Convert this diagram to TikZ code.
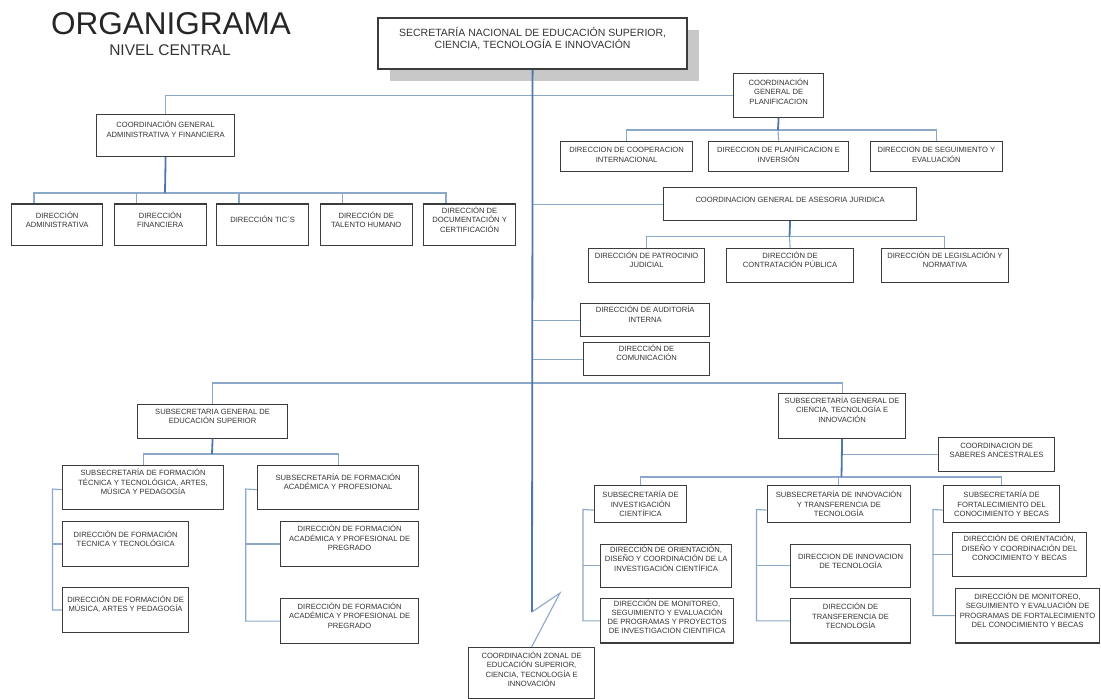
\documentclass[tikz,border=0pt]{standalone}
\usepackage{fontspec}
\setmainfont{Liberation Sans}
\usetikzlibrary{shadows}
\usepackage{xcolor}
\definecolor{Ink}{HTML}{333333}
\definecolor{Frame}{HTML}{3C3C3C}
\definecolor{Wire}{HTML}{8CA8C8}
\definecolor{Trunk}{HTML}{4F77AD}
\definecolor{Shade}{HTML}{C8C8C8}
\newcommand{\orgtext}[4]{\parbox[c][#2pt][t]{#1pt}{\centering\rule{0pt}{#3pt}#4}}

\begin{document}
\begin{tikzpicture}[x=1pt,y=-1pt,
  box/.style={draw=Frame,line width=1.2pt,fill=white,inner sep=0pt,anchor=north west,
    text=Ink,font=\fontsize{7.6}{9.5}\selectfont},
  link/.style={draw=Wire,line width=1.1pt},
  trunk/.style={draw=Trunk,line width=1.8pt}]
\path[use as bounding box,fill=white] (0,0) rectangle (1101,699);
\node[font=\fontsize{31.5}{31.5}\selectfont,text=black!85] (title) at (171,24) {ORGANIGRAMA};
\node[font=\fontsize{15.5}{15.5}\selectfont,text=Ink] (level) at (170,50) {NIVEL CENTRAL};

% autoridad
\node[box,line width=2.2pt,font=\fontsize{10.5}{11.5}\selectfont,
  drop shadow={shadow xshift=12pt,shadow yshift=-12pt,fill=Shade,opacity=1}] (main) at (377,17)
  {\orgtext{309}{51}{18.8}{SECRETARÍA NACIONAL DE EDUCACIÓN SUPERIOR,\\CIENCIA, TECNOLOGÍA E INNOVACIÓN}};

% coordinaciones generales
\node[box] (planif) at (733,73) {\orgtext{90}{44}{11.7}{COORDINACIÓN\\GENERAL DE\\PLANIFICACION}};
\node[box] (cgaf) at (96,114) {\orgtext{138}{42}{13}{COORDINACIÓN GENERAL\\ADMINISTRATIVA Y FINANCIERA}};
\node[box] (dadm) at (11,203.4) {\orgtext{91}{41.6}{14.1}{DIRECCIÓN\\ADMINISTRATIVA}};
\node[box] (dfin) at (113.6,203.4) {\orgtext{92}{41.6}{14.1}{DIRECCIÓN\\FINANCIERA}};
\node[box] (dtic) at (216,203.4) {\orgtext{92}{41.6}{18.3}{DIRECCIÓN TIC´S}};
\node[box] (dtal) at (319.6,203.4) {\orgtext{92}{41.6}{14.1}{DIRECCIÓN DE\\TALENTO HUMANO}};
\node[box] (dcert) at (423,203.4) {\orgtext{92}{41.6}{9.3}{DIRECCIÓN DE\\DOCUMENTACIÓN Y\\CERTIFICACIÓN}};
\node[box] (coop) at (560,140.5) {\orgtext{132}{30.5}{11.7}{DIRECCION DE COOPERACION\\INTERNACIONAL}};
\node[box] (inver) at (708,140.5) {\orgtext{140}{30.5}{11.7}{DIRECCION DE PLANIFICACION E\\INVERSIÓN}};
\node[box] (evalu) at (870,140.5) {\orgtext{131.5}{30.5}{11.7}{DIRECCION DE SEGUIMIENTO Y\\EVALUACIÓN}};
\node[box] (juri) at (663,187) {\orgtext{253}{33}{14.7}{COORDINACION GENERAL DE ASESORIA JURIDICA}};
\node[box] (patro) at (588,248) {\orgtext{116}{34}{9.7}{DIRECCIÓN DE PATROCINIO\\JUDICIAL}};
\node[box] (contra) at (726,248) {\orgtext{127}{34}{9.7}{DIRECCIÓN DE\\CONTRATACIÓN PÚBLICA}};
\node[box] (legis) at (881,248) {\orgtext{126.6}{34}{9.7}{DIRECCIÓN DE LEGISLACIÓN Y\\NORMATIVA}};
\node[box] (audit) at (580,303) {\orgtext{129}{33}{9.2}{DIRECCIÓN DE AUDITORÍA\\INTERNA}};
\node[box] (comu) at (583,342) {\orgtext{126}{33}{8.7}{DIRECCIÓN DE\\COMUNICACIÓN}};

% educacion superior
\node[box] (sges) at (137,404) {\orgtext{150}{33.5}{9.7}{SUBSECRETARIA GENERAL DE\\EDUCACIÓN SUPERIOR}};
\node[box] (stt) at (62,464.6) {\orgtext{161}{44}{10.6}{SUBSECRETARÍA DE FORMACIÓN\\TÉCNICA Y TECNOLÓGICA, ARTES,\\MÚSICA Y PEDAGOGÍA}};
\node[box] (sfap) at (257,464.6) {\orgtext{161}{44}{15.1}{SUBSECRETARÍA DE FORMACIÓN\\ACADÉMICA Y PROFESIONAL}};
\node[box] (dftt) at (62,520.7) {\orgtext{126}{45.3}{16}{DIRECCIÓN DE FORMACIÓN\\TECNICA Y TECNOLÓGICA}};
\node[box] (dfmus) at (62,586.8) {\orgtext{126}{45.2}{14.9}{DIRECCIÓN DE FORMACIÓN DE\\MÚSICA, ARTES Y PEDAGOGÍA}};
\node[box] (dfap1) at (280,520.7) {\orgtext{138}{45.3}{10.6}{DIRECCIÓN DE FORMACIÓN\\ACADÉMICA Y PROFESIONAL DE\\PREGRADO}};
\node[box] (dfap2) at (280,598) {\orgtext{138}{45}{10.7}{DIRECCIÓN DE FORMACIÓN\\ACADÉMICA Y PROFESIONAL DE\\PREGRADO}};

% ciencia y tecnologia
\node[box] (cti) at (778,393) {\orgtext{127}{45}{9.7}{SUBSECRETARÍA GENERAL DE\\CIENCIA, TECNOLOGÍA E\\INNOVACIÓN}};
\node[box] (saber) at (938,437) {\orgtext{116}{34}{10.7}{COORDINACION DE\\SABERES ANCESTRALES}};
\node[box] (sic) at (594,484.5) {\orgtext{92}{37}{12.7}{SUBSECRETARÍA DE\\INVESTIGACIÓN\\CIENTÍFICA}};
\node[box] (sit) at (766.5,484.5) {\orgtext{143.5}{37}{12.7}{SUBSECRETARÍA DE INNOVACIÓN\\Y TRANSFERENCIA DE\\TECNOLOGÍA}};
\node[box] (sfc) at (943,484.5) {\orgtext{116}{37}{12.7}{SUBSECRETARÍA DE\\FORTALECIMIENTO DEL\\CONOCIMIENTO Y BECAS}};
\node[box] (dodcic) at (600,543.6) {\orgtext{131}{43.4}{8}{DIRECCIÓN DE ORIENTACIÓN,\\DISEÑO Y COORDINACIÓN DE LA\\INVESTIGACIÓN CIENTÍFICA}};
\node[box,font=\fontsize{7.6}{9}\selectfont] (dmse) at (600,598) {\orgtext{133}{44.4}{7.5}{DIRECCIÓN DE MONITOREO,\\SEGUIMIENTO Y EVALUACIÓN\\DE PROGRAMAS Y PROYECTOS\\DE INVESTIGACION CIENTIFICA}};
\node[box] (dit) at (790,543.6) {\orgtext{120}{43.4}{15.1}{DIRECCION DE INNOVACION\\DE TECNOLOGÍA}};
\node[box] (dtt) at (790,598) {\orgtext{120}{44.4}{11.3}{DIRECCIÓN DE\\TRANSFERENCIA DE\\TECNOLOGÍA}};
\node[box] (dod) at (952,532) {\orgtext{134}{44}{9.3}{DIRECCIÓN DE ORIENTACIÓN,\\DISEÑO Y COORDINACIÓN DEL\\CONOCIMIENTO Y BECAS}};
\node[box] (dmsep) at (955,587.7) {\orgtext{144}{54.7}{11}{DIRECCIÓN DE MONITOREO,\\SEGUIMIENTO Y EVALUACIÓN DE\\PROGRAMAS DE FORTALECIMIENTO\\DEL CONOCIMIENTO Y BECAS}};
\node[box] (zonal) at (468,647) {\orgtext{126}{51}{10.7}{COORDINACIÓN ZONAL DE\\EDUCACIÓN SUPERIOR,\\CIENCIA, TECNOLOGÍA E\\INNOVACIÓN}};

% puntos de union
\coordinate (busA) at (165,193);
\coordinate (busP) at (778,130);
\coordinate (busJ) at (789.5,236.5);
\coordinate (busL) at (532,383);
\coordinate (busS) at (212,454);
\coordinate (busC) at (841.5,477);
\coordinate (railS) at (52.5,489);
\coordinate (railA) at (245.7,489);
\coordinate (railI) at (583,509.5);
\coordinate (railT) at (756.5,509.5);
\coordinate (railF) at (933,509.5);
\coordinate (zbreak) at (532,612);
\coordinate (zkink) at (560,593);

% conectores
\draw[link] (cgaf.north) |- (planif.west);
\draw[link] ([xshift=23pt]dadm.north west) |- (busA) -| ([xshift=23pt]dcert.north west);
\foreach \d in {dfin,dtic,dtal}
  \draw[link] ([xshift=23pt]\d.north west) |- (busA);
\draw[trunk] (cgaf.south) -- (busA);
\draw[link] (coop.north) |- (busP) -| (evalu.north);
\draw[link] (inver.north) -- (busP);
\draw[trunk] (planif.south) -- (busP);
\draw[link] (juri.west) -- (juri.west -| main.south);
\draw[link] (patro.north) |- (busJ) -| (legis.north);
\draw[link] (contra.north) -- (busJ);
\draw[trunk] (juri.south) -- (busJ);
\draw[link] (audit.west) -- (audit.west -| main.south);
\draw[link] (comu.west) -- (comu.west -| main.south);
\draw[link] (sges.north) |- (busL) -| (cti.north);
\draw[link] (stt.north) |- (busS) -| (sfap.north);
\draw[trunk] (sges.south) -- (busS);
\draw[link] ([yshift=-2.5pt]stt.west) -- (railS) |- (dfmus.west);
\draw[link] (dftt.west) -- (dftt.west -| railS);
\draw[link] ([yshift=-2.5pt]sfap.west) -- (railA) |- (dfap2.west);
\draw[link] (dfap1.west) -- (dfap1.west -| railA);
\draw[link] (saber.west) -- (saber.west -| cti.south);
\draw[link] (sic.north) |- (busC) -| (sfc.north);
\draw[link] (sit.north) |- (busC);
\draw[trunk] (cti.south) -- (busC);
\draw[link] ([yshift=-6.5pt]sic.west) -- (railI) |- (dmse.west);
\draw[link] (dodcic.west) -- (dodcic.west -| railI);
\draw[link] ([yshift=-6.5pt]sit.west) -- (railT) |- (dtt.west);
\draw[link] (dit.west) -- (dit.west -| railT);
\draw[link] ([yshift=-6.5pt]sfc.west) -- (railF) |- (dmsep.west);
\draw[link] (dod.west) -- (dod.west -| railF);
\draw[trunk] (main.south) -- (zbreak);
\draw[link] (zbreak) -- (zkink) -- (zonal.north);
\end{tikzpicture}
\end{document}
